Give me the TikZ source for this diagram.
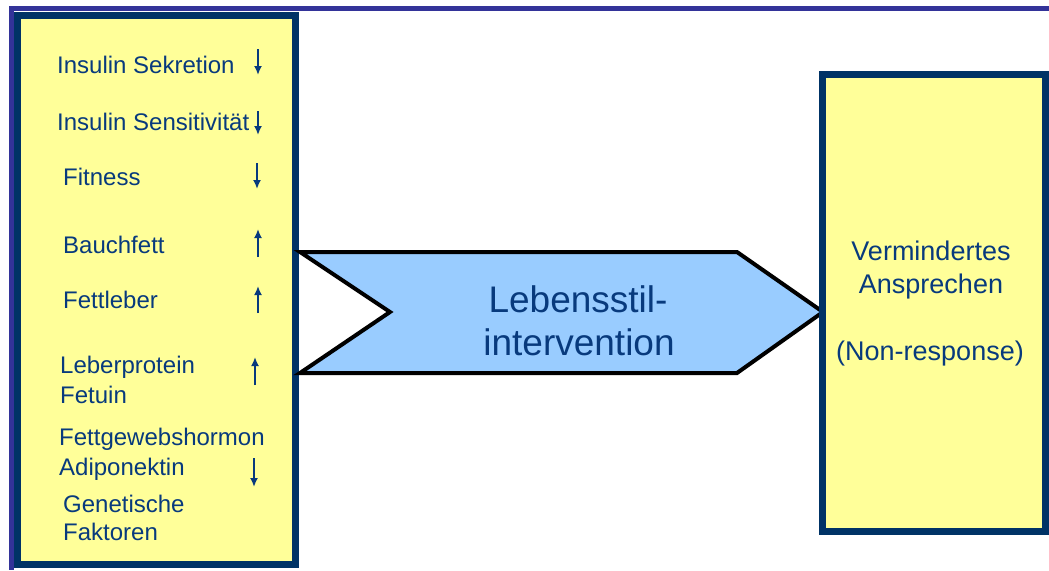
\documentclass[tikz,border=0pt]{standalone}
\usepackage{fontspec}
\setmainfont{Liberation Sans}
\usetikzlibrary{arrows.meta}
\definecolor{navy}{RGB}{0,51,102}
\definecolor{txtblue}{RGB}{8,58,125}
\definecolor{topline}{RGB}{51,51,153}
\definecolor{paleyellow}{RGB}{255,255,153}
\definecolor{skyfill}{RGB}{153,204,255}
\begin{document}
\begin{tikzpicture}[x=1pt,y=-1pt,
  panel/.style={draw=navy,line width=7pt,fill=paleyellow,inner sep=0pt},
  item/.style={anchor=base west,inner sep=0pt,text=txtblue,font=\fontsize{24}{30}\selectfont},
  bigtxt/.style={anchor=base,inner sep=0pt,text=txtblue,font=\fontsize{37}{43}\selectfont},
  restxt/.style={anchor=base,inner sep=0pt,text=txtblue,font=\fontsize{27}{33}\selectfont},
  ind/.style={draw=txtblue,line width=2pt,-{Latex[length=9pt,width=8pt]}},
  chev/.style={draw=black,line width=4pt,fill=skyfill,line join=miter}]
\useasboundingbox (0,0) rectangle (1049,570);
% frame lines
\fill[topline] (9,6) rectangle (1049,11);
\fill[topline] (9,6) rectangle (14,570);
% left panel
\node[panel,minimum width=278pt,minimum height=549pt] (lbox) at (156.5,290) {};
% chevron
\coordinate (c1) at (300,252);
\coordinate (c2) at (737,252);
\coordinate (tip) at (823,312);
\coordinate (c4) at (737,373);
\coordinate (c5) at (300,373);
\coordinate (notch) at (390,312);
\draw[chev] (c1) -- (c2) -- (tip) -- (c4) -- (c5) -- (notch) -- cycle;
\node[bigtxt] (l1) at (578,312) {Lebensstil-};
\node[bigtxt] (l2) at (579,355) {intervention};
% right panel
\node[panel,minimum width=223pt,minimum height=457pt] (rbox) at (934,303) {};
\node[restxt] (r1) at (931,260) {Vermindertes};
\node[restxt] (r2) at (931,293) {Ansprechen};
\node[restxt] (r3) at (930,360) {(Non-response)};
% left items
\node[item] (t1) at (57,73) {Insulin Sekretion};
\node[item] (t2) at (57,130) {Insulin Sensitivität};
\node[item] (t3) at (63,185) {Fitness};
\node[item] (t4) at (63,253) {Bauchfett};
\node[item] (t5) at (63,308) {Fettleber};
\node[item] (t6) at (60,373) {Leberprotein};
\node[item] (t6b) at (60,403) {Fetuin};
\node[item] (t7) at (59,445) {Fettgewebshormon};
\node[item] (t7b) at (59,475) {Adiponektin};
\node[item] (t8) at (63,512) {Genetische};
\node[item] (t8b) at (63,540) {Faktoren};
% indicator arrows
\coordinate (a1s) at (258,49);  \coordinate (a1e) at (258,75);
\coordinate (a2s) at (258,111); \coordinate (a2e) at (258,135);
\coordinate (a3s) at (257,163); \coordinate (a3e) at (257,189);
\coordinate (a4s) at (258,257); \coordinate (a4e) at (258,229);
\coordinate (a5s) at (258,313); \coordinate (a5e) at (258,286);
\coordinate (a6s) at (255,385); \coordinate (a6e) at (255,357);
\coordinate (a7s) at (254,458); \coordinate (a7e) at (254,487);
\draw[ind] (a1s) -- (a1e);
\draw[ind] (a2s) -- (a2e);
\draw[ind] (a3s) -- (a3e);
\draw[ind] (a4s) -- (a4e);
\draw[ind] (a5s) -- (a5e);
\draw[ind] (a6s) -- (a6e);
\draw[ind] (a7s) -- (a7e);
\end{tikzpicture}
\end{document}
